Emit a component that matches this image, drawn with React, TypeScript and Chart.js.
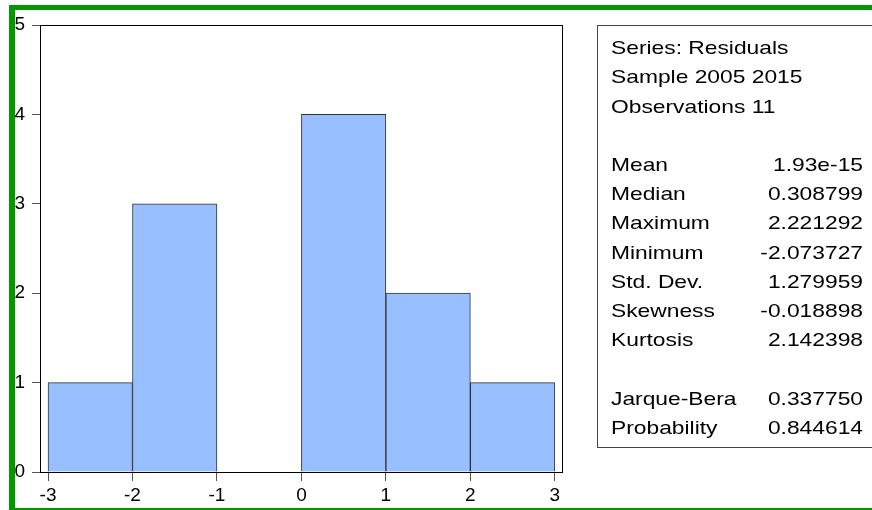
import React, { useEffect, useRef } from "react";
import { Chart, registerables } from "chart.js";

Chart.register(...registerables);

// ---- data ----
const binEdges = [-3, -2, -1, 0, 1, 2, 3];
const counts = [1, 3, 0, 4, 2, 1];
const xTicks = [-3, -2, -1, 0, 1, 2, 3];
const yTicks = [0, 1, 2, 3, 4, 5];
const xMin = -3.095;
const xMax = 3.085;
const yMin = 0;
const yMax = 5;

const headerLines = ["Series: Residuals", "Sample 2005 2015", "Observations 11"];
const statLabels = ["Mean", "Median", "Maximum", "Minimum", "Std. Dev.", "Skewness", "Kurtosis"];
const statValues = ["1.93e-15", "0.308799", "2.221292", "-2.073727", "1.279959", "-0.018898", "2.142398"];
const testLabels = ["Jarque-Bera", "Probability"];
const testValues = ["0.337750", "0.844614"];

const FONT = "'Liberation Sans', Arial, Helvetica, sans-serif";
const GREEN = "#009900";
const BAR_FILL = "#98BFFF";
const BAR_EDGE = "#333333";

export default function App() {
  const ref = useRef<HTMLCanvasElement>(null);

  useEffect(() => {
    const canvas = ref.current;
    if (!canvas) return;

    const framePlugin = {
      id: "frame",
      afterDraw(chart: any) {
        const { ctx, chartArea: a } = chart;
        ctx.save();
        ctx.strokeStyle = "#000";
        ctx.lineWidth = 1;
        ctx.strokeRect(
          Math.round(a.left) + 0.5,
          Math.round(a.top) + 0.5,
          Math.round(a.right - a.left),
          Math.round(a.bottom - a.top)
        );
        ctx.restore();
      },
    };

    const points = counts.map((c, i) => ({
      x: (binEdges[i] + binEdges[i + 1]) / 2,
      y: c,
    }));

    const chart = new Chart(canvas, {
      type: "bar",
      data: {
        datasets: [
          {
            data: points as any,
            backgroundColor: BAR_FILL,
            borderColor: BAR_EDGE,
            borderWidth: 1,
            barPercentage: 1,
            categoryPercentage: 1,
          },
        ],
      },
      options: {
        responsive: false,
        animation: false,
        devicePixelRatio: 1,
        layout: { padding: { top: 25, right: 310, left: 0, bottom: 0 } },
        plugins: {
          legend: { display: false },
          tooltip: { enabled: false },
        },
        scales: {
          x: {
            type: "linear",
            min: xMin,
            max: xMax,
            offset: false,
            afterBuildTicks: (scale: any) => {
              scale.ticks = xTicks.map((v) => ({ value: v }));
            },
            afterFit: (scale: any) => {
              scale.height = 38;
            },
            grid: {
              offset: false,
              drawOnChartArea: false,
              drawTicks: true,
              tickLength: 9,
              color: "#555555",
              lineWidth: 1,
            },
            border: { display: false },
            ticks: {
              padding: 3,
              color: "#000",
              font: { family: FONT, size: 19 },
              maxRotation: 0,
              autoSkip: false,
            },
          },
          y: {
            type: "linear",
            min: yMin,
            max: yMax,
            afterBuildTicks: (scale: any) => {
              scale.ticks = yTicks.map((v) => ({ value: v }));
            },
            afterFit: (scale: any) => {
              scale.width = 40;
            },
            grid: {
              offset: false,
              drawOnChartArea: false,
              drawTicks: true,
              tickLength: 8,
              color: "#555555",
              lineWidth: 1,
            },
            border: { display: false },
            ticks: {
              padding: 7,
              color: "#000",
              font: { family: FONT, size: 19 },
            },
          },
        },
      },
      plugins: [framePlugin],
    });

    return () => chart.destroy();
  }, []);

  const rowH = 29.2;
  const rows: Array<[string, string]> = [
    ...headerLines.map((l) => [l, ""] as [string, string]),
    ["", ""],
    ...statLabels.map((l, i) => [l, statValues[i]] as [string, string]),
    ["", ""],
    ...testLabels.map((l, i) => [l, testValues[i]] as [string, string]),
  ];

  return (
    <div
      style={{
        position: "absolute",
        left: 0,
        top: 0,
        width: 872,
        height: 510,
        background: "#fff",
        overflow: "hidden",
        fontFamily: FONT,
      }}
    >
      <canvas
        ref={ref}
        width={872}
        height={510}
        style={{ position: "absolute", left: 0, top: 0, width: 872, height: 510, display: "block" }}
      />
      {/* green window frame */}
      <div style={{ position: "absolute", left: 9, top: 5, width: 6, height: 505, background: GREEN }} />
      <div style={{ position: "absolute", left: 9, top: 5, width: 863, height: 5, background: GREEN }} />
      <div style={{ position: "absolute", left: 9, top: 508, width: 863, height: 2, background: GREEN }} />
      {/* stats box */}
      <div
        style={{
          position: "absolute",
          left: 597,
          top: 25,
          width: 290,
          height: 423,
          boxSizing: "border-box",
          borderTop: "1px solid #444",
          borderLeft: "1px solid #444",
          borderBottom: "1px solid #444",
        }}
      />
      <div
        style={{
          position: "absolute",
          left: 611,
          top: 33.3,
          width: 210,
          transform: "scaleX(1.2)",
          transformOrigin: "0 0",
          fontSize: 19,
          color: "#000",
        }}
      >
        {rows.map(([l, v], i) => (
          <div
            key={i}
            style={{
              height: rowH,
              lineHeight: `${rowH}px`,
              display: "flex",
              justifyContent: "space-between",
              whiteSpace: "nowrap",
            }}
          >
            <span>{l}</span>
            <span>{v}</span>
          </div>
        ))}
      </div>
    </div>
  );
}
